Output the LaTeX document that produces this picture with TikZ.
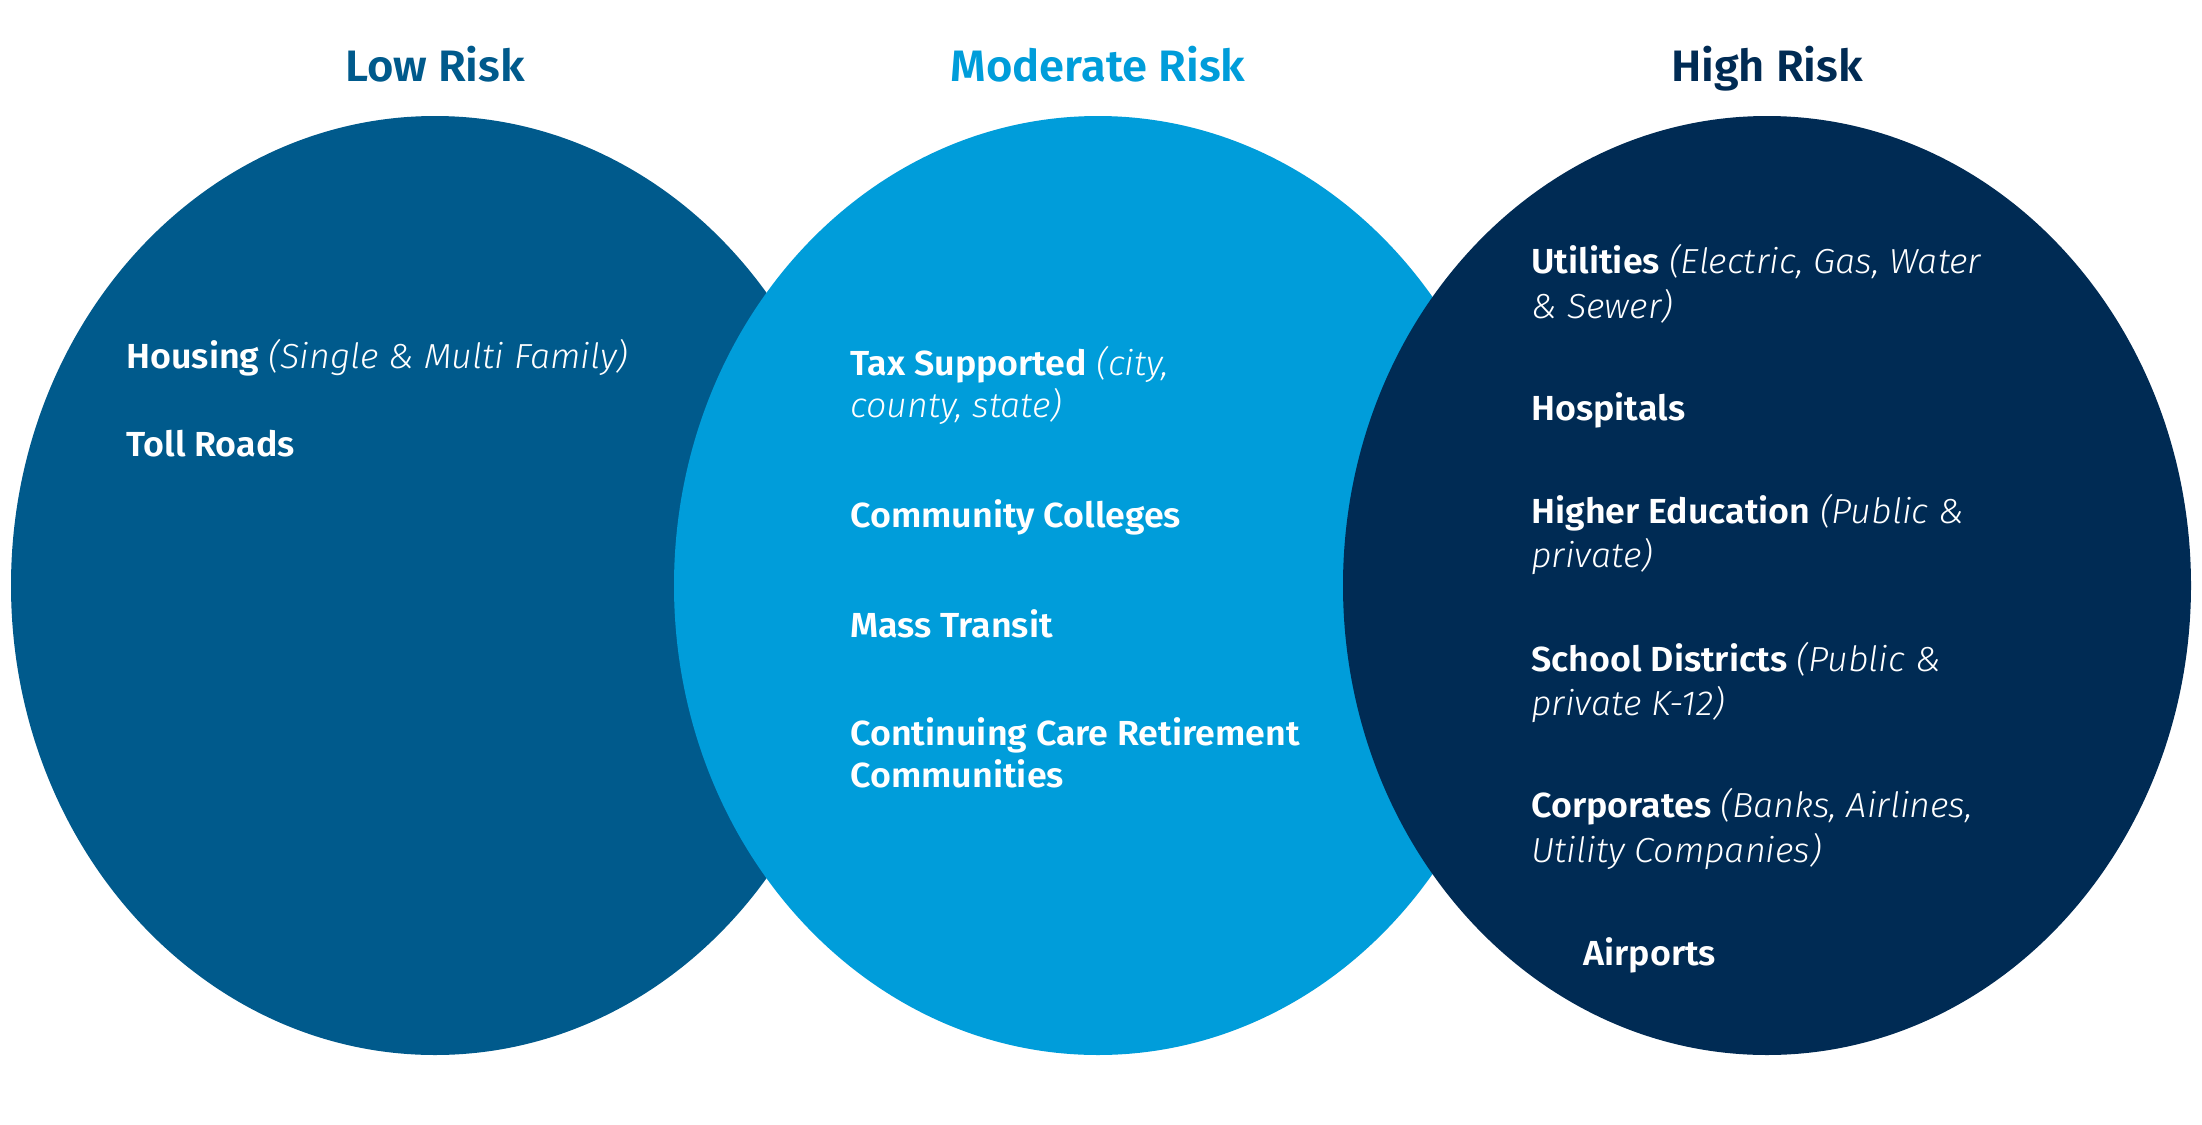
\documentclass[tikz,border=0pt]{standalone}
\usepackage{fontspec}
\setmainfont{Fira Sans}[BoldFont={Fira Sans SemiBold}, ItalicFont={Fira Sans Light Italic}, FakeStretch=1.03]
\definecolor{lowc}{RGB}{0,90,140}
\definecolor{modc}{RGB}{0,157,218}
\definecolor{highc}{RGB}{0,43,84}
\tikzset{
  title/.style={anchor=base, inner sep=0pt, font=\fontsize{22}{27}\selectfont\bfseries},
  item/.style={anchor=base west, inner sep=0pt, text=white, font=\fontsize{17.4}{21}\selectfont}
}
\newcommand{\lbl}[1]{\textbf{#1}}
\newcommand{\note}[1]{\textit{#1}}
\begin{document}
\begin{tikzpicture}[x=0.5pt,y=-0.5pt]
\useasboundingbox (0,0) rectangle (2202,1125);
\fill[white] (0,0) rectangle (2202,1125);
% circles: left, middle, right (later on top)
\fill[lowc]  (435,585.5)  ellipse [x radius=212pt, y radius=234.75pt];
\fill[modc]  (1098,585.5) ellipse [x radius=212pt, y radius=234.75pt];
\fill[highc] (1767,585.5) ellipse [x radius=212pt, y radius=234.75pt];
% titles
\node[title, text=lowc]  (tlow)  at (435,81)  {Low Risk};
\node[title, text=modc]  (tmod)  at (1098,81) {Moderate Risk};
\node[title, text=highc] (thigh) at (1767,81) {High Risk};
% low
\node[item] (housing) at (126,368) {\lbl{Housing} \note{(Single \& Multi Family)}};
\node[item] (toll)    at (126,456) {\lbl{Toll Roads}};
% moderate
\node[item] (tax1) at (850,375) {\lbl{Tax Supported} \note{(city,}};
\node[item] (tax2) at (850,417) {\note{county, state)}};
\node[item] (cc)   at (850,527) {\lbl{Community Colleges}};
\node[item] (mt)   at (850,637) {\lbl{Mass Transit}};
\node[item] (ccr1) at (850,745) {\lbl{Continuing Care Retirement}};
\node[item] (ccr2) at (850,787) {\lbl{Communities}};
% high
\node[item] (ut1) at (1531,273) {\lbl{Utilities} \note{(Electric, Gas, Water}};
\node[item] (ut2) at (1531,318) {\note{\& Sewer)}};
\node[item] (hosp) at (1531,420) {\lbl{Hospitals}};
\node[item] (he1) at (1531,523) {\lbl{Higher Education} \note{(Public \&}};
\node[item] (he2) at (1531,567) {\note{private)}};
\node[item] (sd1) at (1531,671) {\lbl{School Districts} \note{(Public \&}};
\node[item] (sd2) at (1531,715) {\note{private K-12)}};
\node[item] (co1) at (1531,817) {\lbl{Corporates} \note{(Banks, Airlines,}};
\node[item] (co2) at (1531,862) {\note{Utility Companies)}};
\node[item] (air) at (1583,965) {\lbl{Airports}};
\end{tikzpicture}
\end{document}
